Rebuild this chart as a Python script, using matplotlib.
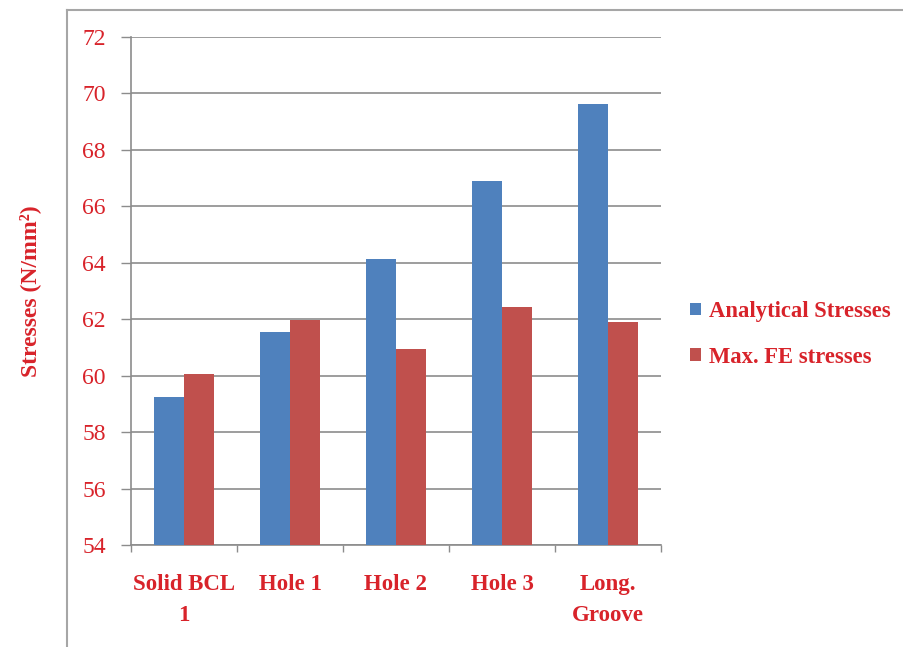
import numpy as np
import matplotlib.pyplot as plt
from matplotlib.lines import Line2D

# stress comparison per specimen
categories = ["Solid BCL\n1", "Hole 1", "Hole 2", "Hole 3", "Long.\nGroove"]
analytical = [59.23, 61.56, 64.12, 66.88, 69.64]
max_fe = [60.06, 61.98, 60.93, 62.42, 61.91]
series_names = ["Analytical Stresses", "Max. FE stresses"]
y_ticks = [54, 56, 58, 60, 62, 64, 66, 68, 70, 72]

BLUE = "#4f81bd"
RED = "#c0504d"
TXT = "#d8232a"
GRID = "#8c8c8c"

plt.rcParams['font.family'] = ['Liberation Serif', 'DejaVu Serif']

fig = plt.figure(figsize=(9.04, 6.47), dpi=100)
ax = fig.add_axes([0.1449, 0.1577, 0.5863, 0.7851])

x = np.arange(len(categories))
w = 1 / 3.5
ax.bar(x - w / 2, analytical, width=w, color=BLUE, label=series_names[0], zorder=3)
ax.bar(x + w / 2, max_fe, width=w, color=RED, label=series_names[1], zorder=3)

ax.set_ylim(54, 72)
ax.set_xlim(-0.5, len(categories) - 0.5)
ax.set_yticks(y_ticks)
ax.set_yticklabels([str(v) for v in y_ticks], color=TXT, fontsize=17)
ax.yaxis.grid(True, color=GRID, linewidth=1.2, zorder=0)
ax.tick_params(axis='y', length=7, width=1, color=GRID, pad=11)

# category labels sit between boundary ticks
ax.set_xticks(x)
ax.set_xticklabels(categories, color=TXT, fontsize=16.5, fontweight='bold',
                   linespacing=1.6)
ax.tick_params(axis='x', length=0, pad=21)
ax.set_xticks(np.arange(len(categories) + 1) - 0.5, minor=True)
ax.tick_params(axis='x', which='minor', length=5, width=1, color=GRID)

for s in ['top', 'right']:
    ax.spines[s].set_visible(False)
for s in ['left', 'bottom']:
    ax.spines[s].set_color(GRID)
    ax.spines[s].set_linewidth(1.2)

ax.set_ylabel("Stresses (N/mm²)", color=TXT, fontsize=17,
              fontweight='bold', labelpad=30)

leg = ax.legend(loc='center left', bbox_to_anchor=(1.03, 0.415), frameon=False,
                fontsize=16.3, handlelength=0.45, handleheight=0.45,
                handletextpad=0.35, labelspacing=1.1, borderaxespad=0.2)
for t in leg.get_texts():
    t.set_color(TXT)
    t.set_fontweight('bold')

# outer chart-area border (top and left edges)
fig.add_artist(Line2D([0.074, 1.0], [0.985, 0.985], color="#a6a6a6", linewidth=1.5,
                      transform=fig.transFigure))
fig.add_artist(Line2D([0.074, 0.074], [0.0, 0.985], color="#a6a6a6", linewidth=1.5,
                      transform=fig.transFigure))

fig.savefig("out.png", dpi=100)
